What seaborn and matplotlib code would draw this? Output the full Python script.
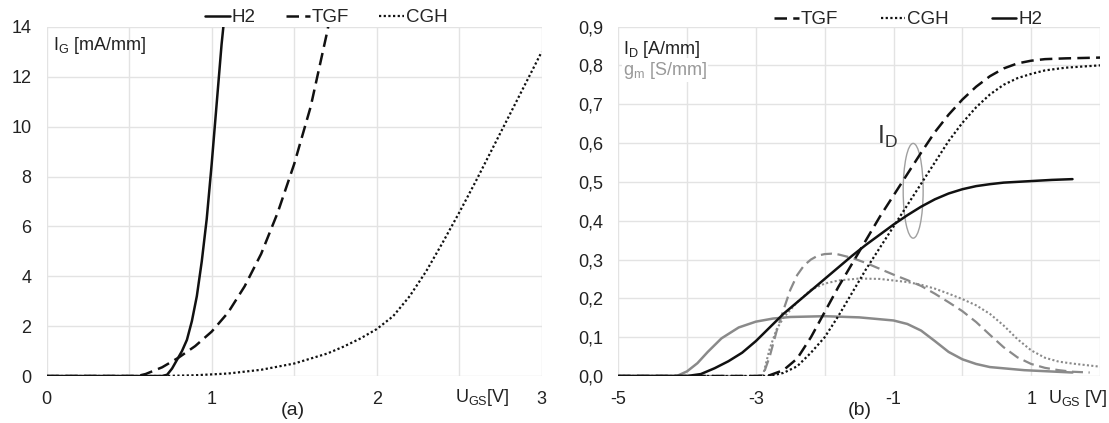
import numpy as np
import pandas as pd
import seaborn as sns
import matplotlib.pyplot as plt
from matplotlib.patches import Ellipse

# ---- (a) gate current I_G [mA/mm] vs U_GS [V] ----
ig_h2_x = [0, 0.70, 0.73, 0.76, 0.79, 0.82, 0.85, 0.88, 0.91, 0.94, 0.97, 1.0, 1.03, 1.06, 1.08]
ig_h2_y = [0, 0, 0.05, 0.3, 0.65, 1.0, 1.45, 2.2, 3.2, 4.6, 6.3, 8.5, 10.9, 13.3, 14.6]

ig_tgf_x = [0, 0.55, 0.6, 0.7, 0.8, 0.9, 1.0, 1.1, 1.2, 1.3, 1.4, 1.5, 1.6, 1.7, 1.75]
ig_tgf_y = [0, 0, 0.08, 0.35, 0.74, 1.2, 1.78, 2.55, 3.6, 4.9, 6.55, 8.5, 10.8, 13.8, 15.5]

ig_cgh_x = [0, 0.7, 0.9, 1.1, 1.3, 1.5, 1.7, 1.8, 1.9, 2.0, 2.1, 2.2, 2.3, 2.4, 2.5, 2.6, 2.7, 2.8, 2.9, 3.0]
ig_cgh_y = [0, 0, 0.03, 0.1, 0.25, 0.5, 0.9, 1.18, 1.5, 1.88, 2.4, 3.2, 4.2, 5.35, 6.55, 7.8, 9.1,
            10.4, 11.7, 13.0]

# ---- (b) drain current I_D [A/mm] and transconductance g_m [S/mm] ----
id_tgf_x = [-5, -3, -2.8, -2.6, -2.4, -2.2, -2.0, -1.8, -1.6, -1.4, -1.2, -1.0, -0.8, -0.6,
            -0.4, -0.2, 0.0, 0.2, 0.4, 0.6, 0.8, 1.0, 1.2, 1.5, 2.0]
id_tgf_y = [0, 0, 0.002, 0.015, 0.045, 0.10, 0.165, 0.23, 0.29, 0.35, 0.41, 0.465, 0.52, 0.575,
            0.628, 0.673, 0.712, 0.745, 0.772, 0.792, 0.805, 0.812, 0.816, 0.818, 0.82]

id_cgh_x = [-5, -2.8, -2.6, -2.4, -2.2, -2.0, -1.8, -1.6, -1.4, -1.2, -1.0, -0.8, -0.6, -0.4,
            -0.2, 0.0, 0.2, 0.4, 0.6, 0.8, 1.0, 1.2, 1.5, 2.0]
id_cgh_y = [0, 0, 0.008, 0.025, 0.06, 0.10, 0.155, 0.215, 0.275, 0.33, 0.385, 0.44, 0.495, 0.55,
            0.605, 0.652, 0.692, 0.725, 0.75, 0.767, 0.778, 0.787, 0.794, 0.80]

id_h2_x = [-5, -4.0, -3.8, -3.6, -3.4, -3.2, -3.0, -2.8, -2.6, -2.4, -2.2, -2.0, -1.8, -1.6, -1.4,
           -1.2, -1.0, -0.8, -0.6, -0.4, -0.2, 0.0, 0.2, 0.4, 0.6, 0.8, 1.0, 1.3, 1.6]
id_h2_y = [0, 0, 0.005, 0.02, 0.038, 0.06, 0.09, 0.125, 0.16, 0.19, 0.22, 0.25, 0.28, 0.31, 0.338,
           0.364, 0.39, 0.414, 0.436, 0.455, 0.47, 0.481, 0.489, 0.494, 0.498, 0.5, 0.502, 0.505, 0.507]

gm_tgf_x = [-5, -2.9, -2.8, -2.7, -2.6, -2.5, -2.4, -2.3, -2.2, -2.1, -2.0, -1.9, -1.8, -1.6, -1.4,
            -1.2, -1.0, -0.8, -0.6, -0.4, -0.2, 0.0, 0.2, 0.4, 0.6, 0.8, 1.0, 1.2, 1.4, 1.6, 1.85]
gm_tgf_y = [0, 0, 0.05, 0.115, 0.17, 0.222, 0.26, 0.285, 0.3, 0.31, 0.314, 0.315, 0.313, 0.304,
            0.291, 0.276, 0.261, 0.247, 0.232, 0.212, 0.19, 0.167, 0.139, 0.106, 0.074, 0.048,
            0.031, 0.021, 0.015, 0.011, 0.009]

gm_cgh_x = [-5, -2.9, -2.8, -2.7, -2.6, -2.5, -2.4, -2.2, -2.0, -1.8, -1.5, -1.2, -1.0, -0.8, -0.6,
            -0.4, -0.2, 0.0, 0.2, 0.4, 0.6, 0.8, 1.0, 1.2, 1.4, 1.6, 1.8, 2.0]
gm_cgh_y = [0, 0, 0.07, 0.12, 0.15, 0.17, 0.19, 0.222, 0.238, 0.246, 0.251, 0.25, 0.246, 0.242, 0.235,
            0.225, 0.212, 0.198, 0.182, 0.16, 0.13, 0.095, 0.066, 0.047, 0.037, 0.032, 0.028, 0.024]

gm_h2_x = [-5, -4.15, -4.0, -3.85, -3.7, -3.5, -3.25, -3.0, -2.75, -2.5, -2.0, -1.5, -1.0, -0.8,
           -0.6, -0.4, -0.2, 0.0, 0.2, 0.4, 0.9, 1.6]
gm_h2_y = [0, 0, 0.012, 0.033, 0.062, 0.097, 0.125, 0.14, 0.148, 0.152, 0.154, 0.151, 0.143, 0.134,
           0.117, 0.09, 0.062, 0.043, 0.031, 0.023, 0.015, 0.009]

# ---- style ----
sns.set_style("whitegrid")
plt.rcParams['font.family'] = ['Liberation Sans', 'DejaVu Sans']
plt.rcParams['mathtext.default'] = 'regular'
plt.rcParams['grid.color'] = '#e3e3e3'
plt.rcParams['grid.linewidth'] = 1.0

BLACK = '#111111'
GRAY = '#8a8a8a'
DASH = (0, (5, 2.5))
DOT = (0, (1, 1.1))

fig = plt.figure(figsize=(11.09, 4.23), dpi=100)
ax1 = fig.add_axes([0.0421, 0.1111, 0.4463, 0.8251])
ax2 = fig.add_axes([0.5575, 0.1111, 0.4344, 0.8262])


def draw(ax, x, y, color, ls, lw, label=None):
    sns.lineplot(x=x, y=y, ax=ax, color=color, linestyle=ls, linewidth=lw,
                 label=label, sort=False, estimator=None)


# ============================================================
# (a) gate current
# ============================================================
draw(ax1, ig_h2_x, ig_h2_y, BLACK, '-', 1.8, 'H2')
draw(ax1, ig_tgf_x, ig_tgf_y, BLACK, DASH, 1.8, 'TGF')
draw(ax1, ig_cgh_x, ig_cgh_y, BLACK, DOT, 1.6, 'CGH')

ax1.set_xlim(0, 3)
ax1.set_ylim(0, 14)
ax1.set_xticks(np.arange(0, 3.01, 0.5))
ax1.set_xticklabels(['0', '', '1', '', '2', '', '3'])
ax1.set_yticks(np.arange(0, 14.1, 2))
ax1.legend(loc='center', bbox_to_anchor=(0.565, 1.026), ncol=3, frameon=False,
           fontsize=13.5, handlelength=1.3, handletextpad=0.1, columnspacing=1.6,
           borderpad=0)
ax1.text(0.013, 0.948, 'I$_G$ [mA/mm]', transform=ax1.transAxes, fontsize=13,
         ha='left', va='center', color='#222222')
ax1.text(0.881, -0.063, 'U$_{GS}$[V]', transform=ax1.transAxes, fontsize=13,
         ha='center', va='center', color='#222222')
ax1.text(0.497, -0.1, '(a)', transform=ax1.transAxes, fontsize=14,
         ha='center', va='center', color='#222222')

# ============================================================
# (b) drain current and transconductance
# ============================================================
draw(ax2, gm_tgf_x, gm_tgf_y, GRAY, DASH, 1.6)
draw(ax2, gm_cgh_x, gm_cgh_y, GRAY, DOT, 1.5)
draw(ax2, gm_h2_x, gm_h2_y, GRAY, '-', 1.8)
draw(ax2, id_tgf_x, id_tgf_y, BLACK, DASH, 1.8, 'TGF')
draw(ax2, id_cgh_x, id_cgh_y, BLACK, DOT, 1.6, 'CGH')
draw(ax2, id_h2_x, id_h2_y, BLACK, '-', 1.8, 'H2')

ax2.set_xlim(-5, 2)
ax2.set_ylim(0, 0.9)
ax2.set_xticks(np.arange(-5, 2.01, 1))
ax2.set_xticklabels(['-5', '', '-3', '', '-1', '', '1', ''])
yt = np.arange(0, 0.91, 0.1)
ax2.set_yticks(yt)
ax2.set_yticklabels([f"{v:.1f}".replace('.', ',') for v in yt])
ax2.legend(loc='center', bbox_to_anchor=(0.602, 1.019), ncol=3, frameon=False,
           fontsize=13.5, handlelength=1.3, handletextpad=0.1, columnspacing=2.3,
           borderpad=0)
ax2.text(0.01, 0.935, 'I$_D$ [A/mm]', transform=ax2.transAxes, fontsize=13,
         ha='left', va='center', color='#222222')
ax2.text(0.01, 0.875, 'g$_m$ [S/mm]', transform=ax2.transAxes, fontsize=13,
         ha='left', va='center', color='#999999',
         bbox=dict(facecolor='white', edgecolor='none', pad=1))
ax2.text(0.954, -0.063, 'U$_{GS}$ [V]', transform=ax2.transAxes, fontsize=13,
         ha='center', va='center', color='#222222')
ax2.text(0.501, -0.1, '(b)', transform=ax2.transAxes, fontsize=14,
         ha='center', va='center', color='#222222')

# I_D marker: label and ellipse round the three drain-current curves
ax2.text(-1.09, 0.615, 'I$_D$', fontsize=18, ha='center', va='center', color='#333333')
ax2.add_patch(Ellipse((-0.715, 0.477), width=0.29, height=0.244, fill=False,
                      edgecolor='#a0a0a0', linewidth=1.0))

for ax in (ax1, ax2):
    for s in ax.spines.values():
        s.set_visible(False)
    ax.tick_params(length=0, labelsize=13, labelcolor='#222222')
    ax.tick_params(axis='x', pad=11)
    ax.tick_params(axis='y', pad=11)
    ax.set_xlabel('')
    ax.set_ylabel('')
    ax.grid(True)

fig.savefig('out.png', dpi=100)
